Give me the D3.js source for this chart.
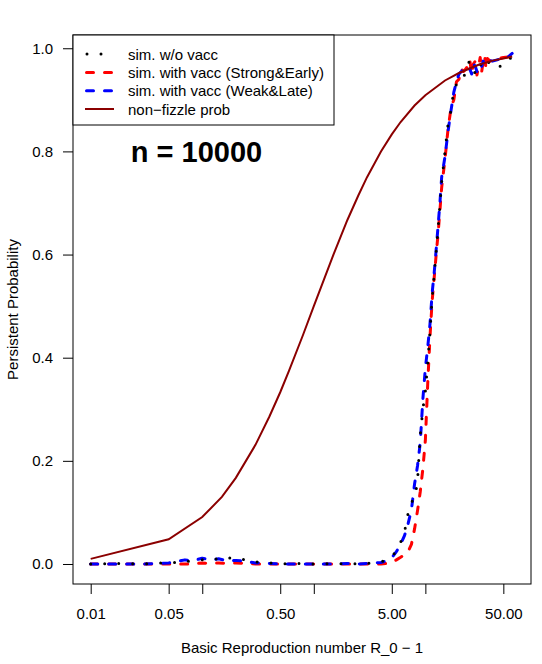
<!DOCTYPE html>
<html>
<head>
<meta charset="utf-8">
<script src="https://cdn.jsdelivr.net/npm/d3@7"></script>
<style>
  body { margin: 0; background: #fff; }
  text { font-family: "Liberation Sans", Arial, sans-serif; fill: #000; }
</style>
</head>
<body>
<div id="chart"></div>
<script>
//Basic reproduction number R_0 - 1 used for the simulations
const simX = [0.01, 0.02, 0.03, 0.04, 0.05, 0.06, 0.07, 0.08, 0.1, 0.12, 0.14, 0.17, 0.2, 0.25, 0.3, 0.4, 0.5, 0.7, 1,
  1.5, 2, 2.5, 3, 3.5, 4, 4.5,
  5, 5.5, 6, 6.5, 7, 7.5, 8, 8.5, 9, 9.5, 10, 10.5, 11, 11.5, 12, 12.5, 13, 13.5, 14,
  15, 16, 17,
  18, 19, 20, 21, 22, 23, 24, 25, 26, 27, 28, 29, 30, 31, 32, 33, 34, 35, 36,
  38, 40, 45, 50, 55, 60];

//sim. w/o vacc
const noVacc = [0, 0.001, 0, 0.002, 0.001, 0.004, 0.006, 0.005, 0.008, 0.011, 0.009, 0.013, 0.008, 0.009, 0.004, 0.002, 0, 0.001, 0,
  0.001, 0, 0.001, 0.001, 0.002, 0.004, 0.008,
  0.014, 0.026, 0.042, 0.062, 0.098, 0.12, 0.126, 0.16, 0.25, 0.3, 0.335, 0.39, 0.45, 0.515, 0.56, 0.605, 0.65, 0.695, 0.74,
  0.8, 0.855, 0.88,
  0.92, 0.93, 0.935, 0.94, 0.94, 0.96, 0.97, 0.975, 0.965, 0.96, 0.95, 0.955, 0.965, 0.97, 0.965, 0.96, 0.965, 0.97, 0.97,
  0.975, 0.975, 0.965, 0.965, 0.975, 0.985];

//sim. with vacc (Strong&Early)
const strongEarly = [0, 0, 0, 0, 0, 0, 0, 0, 0.002, 0.001, 0.002, 0.001, 0.002, 0.001, 0, 0, 0, 0, 0,
  0, 0, 0, 0, 0, 0, 0.001,
  0.003, 0.008, 0.013, 0.018, 0.024, 0.038, 0.068, 0.103, 0.14, 0.185, 0.24, 0.35, 0.44, 0.51, 0.555, 0.6, 0.64, 0.685, 0.73,
  0.785, 0.845, 0.885,
  0.9, 0.935, 0.94, 0.96, 0.955, 0.96, 0.965, 0.978, 0.95, 0.97, 0.975, 0.948, 0.965, 0.982, 0.955, 0.975, 0.985, 0.96, 0.98,
  0.975, 0.978, 0.98, 0.982, 0.983, 0.985];

//sim. with vacc (Weak&Late)
const weakLate = [0, 0, 0, 0.001, 0.002, 0.005, 0.008, 0.006, 0.011, 0.008, 0.01, 0.006, 0.007, 0.005, 0.002, 0.001, 0, 0, 0,
  0, 0.001, 0, 0.001, 0.002, 0.003, 0.006,
  0.012, 0.024, 0.038, 0.055, 0.078, 0.105, 0.155, 0.19, 0.235, 0.32, 0.38, 0.42, 0.465, 0.525, 0.565, 0.61, 0.655, 0.7, 0.75,
  0.79, 0.84, 0.88,
  0.915, 0.935, 0.95, 0.955, 0.96, 0.955, 0.96, 0.96, 0.95, 0.97, 0.965, 0.955, 0.97, 0.97, 0.965, 0.975, 0.97, 0.975, 0.975,
  0.976, 0.975, 0.978, 0.98, 0.983, 0.99];

//non-fizzle prob
const fizzleX = [0.01, 0.05, 0.1, 0.15, 0.2, 0.3, 0.4, 0.5, 0.6, 0.8, 1, 1.5, 2, 2.5, 3, 4, 5, 6, 8, 10, 15, 20, 30, 40, 50, 60];
const nonFizzle = [0.0099, 0.048, 0.091, 0.13, 0.167, 0.231, 0.286, 0.333, 0.375, 0.444, 0.5, 0.6, 0.667, 0.714, 0.75, 0.8,
  0.833, 0.857, 0.889, 0.909, 0.9375, 0.952, 0.968, 0.976, 0.98, 0.984];

//Tick values and labels
const xTicks = [0.01, 0.05, 0.1, 0.5, 1, 5, 10, 50];
const xTickLabels = ["0.01", "0.05", "", "0.50", "", "5.00", "", "50.00"];
const yTicks = [0, 0.2, 0.4, 0.6, 0.8, 1];

const legendLabels = ["sim. w/o vacc", "sim. with vacc (Strong&Early)", "sim. with vacc (Weak&Late)", "non\u2212fizzle prob"];

//SVG size and plot box
let width = 542,
  height = 664;
let box = {left: 73, right: 531, top: 35, bottom: 584};

let svg = d3.select("#chart").append("svg")
  .attr("width", width)
  .attr("height", height);

//Scales (limits include the usual 4% padding)
let x = d3.scaleLog().domain([0.00694, 88.5]).range([box.left, box.right]);
let y = d3.scaleLinear().domain([-0.0388, 1.0257]).range([box.bottom, box.top]);

//Axes
let xAxis = d3.axisBottom(x)
  .tickValues(xTicks)
  .tickFormat((d, i) => xTickLabels[i])
  .tickSize(10)
  .tickPadding(8);
let gx = svg.append("g")
  .attr("transform", "translate(0," + box.bottom + ")")
  .call(xAxis);
gx.select(".domain").remove();
gx.selectAll("line").attr("stroke", "#000");
gx.selectAll("text").style("font-size", "15px").attr("dy", "1.15em");

let yAxis = d3.axisLeft(y)
  .tickValues(yTicks)
  .tickFormat(d3.format(".1f"))
  .tickSize(10)
  .tickPadding(10);
let gy = svg.append("g")
  .attr("transform", "translate(" + box.left + ",0)")
  .call(yAxis);
gy.select(".domain").remove();
gy.selectAll("line").attr("stroke", "#000");
gy.selectAll("text").style("font-size", "15px");

//Axis titles
svg.append("text")
  .attr("x", (box.left + box.right) / 2)
  .attr("y", 653)
  .attr("text-anchor", "middle")
  .style("font-size", "15px")
  .text("Basic Reproduction number R_0 \u2212 1");

svg.append("text")
  .attr("transform", "translate(18," + (box.top + box.bottom) / 2 + ") rotate(-90)")
  .attr("text-anchor", "middle")
  .style("font-size", "15px")
  .text("Persistent Probability");

//Lines
let line = d3.line()
  .x(d => x(d[0]))
  .y(d => y(d[1]));

let series = [
  {values: strongEarly, color: "#FF0000", dash: "7,11", width: 3},
  {values: weakLate, color: "#0000FF", dash: "7,11", width: 3},
  {values: noVacc, color: "#000000", dash: "0,14", width: 3}
];

series.forEach(function (s) {
  svg.append("path")
    .datum(simX.map((v, i) => [v, s.values[i]]))
    .attr("d", line)
    .attr("fill", "none")
    .attr("stroke", s.color)
    .attr("stroke-width", s.width)
    .attr("stroke-dasharray", s.dash)
    .attr("stroke-linecap", "round")
    .attr("stroke-linejoin", "round");
});

svg.append("path")
  .datum(fizzleX.map((v, i) => [v, nonFizzle[i]]))
  .attr("d", line)
  .attr("fill", "none")
  .attr("stroke", "#8B0000")
  .attr("stroke-width", 2);

//Plot box
svg.append("rect")
  .attr("x", box.left)
  .attr("y", box.top)
  .attr("width", box.right - box.left)
  .attr("height", box.bottom - box.top)
  .attr("fill", "none")
  .attr("stroke", "#000");

//Legend
let legend = svg.append("g");
legend.append("rect")
  .attr("x", box.left)
  .attr("y", box.top)
  .attr("width", 261)
  .attr("height", 90)
  .attr("fill", "#fff")
  .attr("stroke", "#000");

let legendStyle = [
  {color: "#000000", dash: "0,14", width: 3, x1: 87, x2: 110},
  {color: "#FF0000", dash: "7,11", width: 3, x1: 86.5, x2: 113},
  {color: "#0000FF", dash: "7,11", width: 3, x1: 86.5, x2: 113},
  {color: "#8B0000", dash: null, width: 2, x1: 85, x2: 114}
];
let rowY = [54, 72.5, 90.8, 109];

legendLabels.forEach(function (label, i) {
  let st = legendStyle[i];
  legend.append("line")
    .attr("x1", st.x1).attr("x2", st.x2)
    .attr("y1", rowY[i]).attr("y2", rowY[i])
    .attr("stroke", st.color)
    .attr("stroke-width", st.width)
    .attr("stroke-dasharray", st.dash)
    .attr("stroke-linecap", st.dash ? "round" : "butt");
  legend.append("text")
    .attr("x", 128)
    .attr("y", rowY[i] + 5.5)
    .style("font-size", "15px")
    .text(label);
});

//Sample size annotation
svg.append("text")
  .attr("x", 196.5)
  .attr("y", 162)
  .attr("text-anchor", "middle")
  .style("font-size", "29px")
  .style("font-weight", "bold")
  .text("n = 10000");
</script>
</body>
</html>
